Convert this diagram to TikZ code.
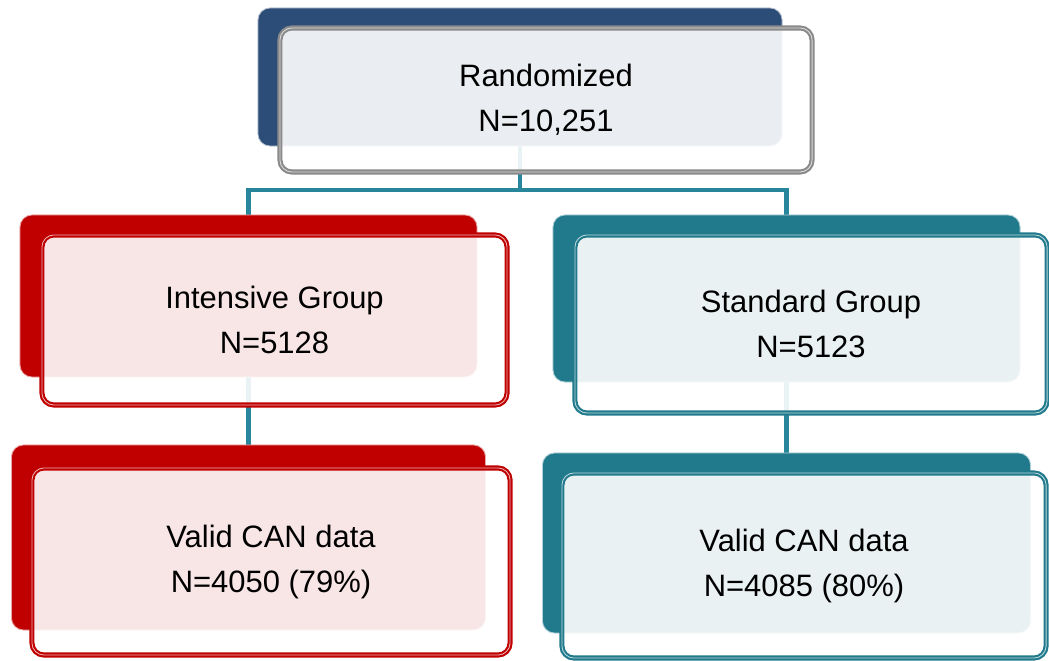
\documentclass[tikz,border=0pt]{standalone}
\usepackage{fontspec}
\setmainfont{Liberation Sans}
\usetikzlibrary{backgrounds}

\definecolor{navyback}{RGB}{45,77,121}
\definecolor{redback}{RGB}{192,0,0}
\definecolor{tealback}{RGB}{33,122,140}
\definecolor{grayedge}{RGB}{138,138,138}
\definecolor{lineteal}{RGB}{40,134,156}

\tikzset{
	backbox/.style={rectangle, rounded corners=0.3cm, fill=#1, draw=#1!35!white, line width=0.6pt},
	frontbox/.style={rectangle, rounded corners=0.3cm, fill=white, fill opacity=0.9, text opacity=1,
		draw=#1, line width=1.5pt, double=#1!30!white, double distance=0.6pt,
		align=center, font=\fontsize{22}{32}\selectfont},
	link/.style={draw=lineteal, line width=3pt}
}

\begin{document}
\begin{tikzpicture}[x=0.025cm,y=-0.025cm]
	\useasboundingbox (0,0) rectangle (1049,661);
	% back plates
	\node[backbox=navyback, minimum width=13.1cm, minimum height=3.45cm] (randB) at (520,77) {};
	\node[backbox=redback, minimum width=11.425cm, minimum height=4.05cm] (intB) at (248.5,296) {};
	\node[backbox=tealback, minimum width=11.675cm, minimum height=4.175cm] (stdB) at (786.5,298.5) {};
	\node[backbox=redback, minimum width=11.85cm, minimum height=4.625cm] (intlowB) at (248.5,537.5) {};
	\node[backbox=tealback, minimum width=12.2cm, minimum height=4.5cm] (stdlowB) at (786.5,543) {};
	% front boxes with the counts
	\node[frontbox=grayedge, minimum width=13.3cm, minimum height=3.6cm] (rand) at (546,100) {Randomized\\N=10,251};
	\node[frontbox=redback, minimum width=11.625cm, minimum height=4.25cm] (int) at (274.5,320) {Intensive Group\\N=5128};
	\node[frontbox=tealback, minimum width=11.8cm, minimum height=4.45cm] (std) at (811,324) {Standard Group\\N=5123};
	\node[frontbox=redback, minimum width=11.95cm, minimum height=4.675cm] (intlow) at (271,561.5) {Valid CAN data\\N=4050 (79\%)};
	\node[frontbox=tealback, minimum width=12.1cm, minimum height=4.625cm] (stdlow) at (804,565.5) {Valid CAN data\\N=4085 (80\%)};
	% connectors go behind the boxes
	\begin{pgfonlayer}{background}
		\fill[white] (0,0) rectangle (1049,661);
		\draw[link] (randB.center) -- ++(0,113) -| (intB.center);
		\draw[link] (randB.center) -- ++(0,113) -| (stdB.center);
		\draw[link] (intB.center) -- (intB.center |- intlowB.center);
		\draw[link] (stdB.center) -- (stdB.center |- stdlowB.center);
	\end{pgfonlayer}
\end{tikzpicture}
\end{document}
